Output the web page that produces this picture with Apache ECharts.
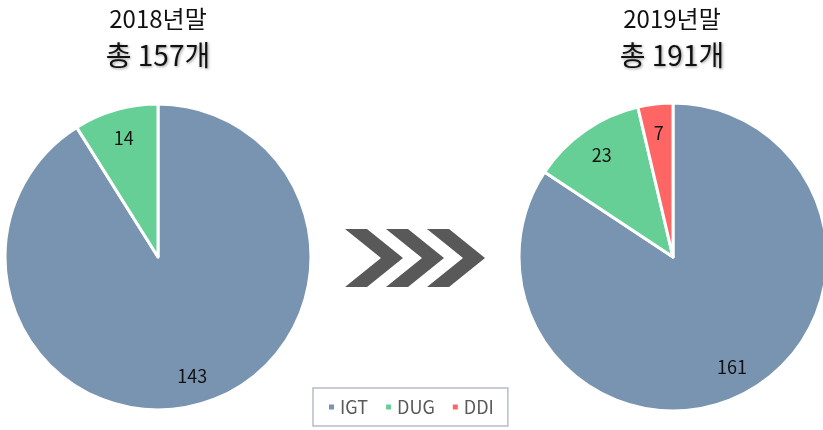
<!DOCTYPE html>
<html lang="ko">
  <head>
    <meta charset="UTF-8" />
    <title>2018년말 / 2019년말</title>
    <style>
      body {
        margin: 0;
      }
      #main {
        width: 823px;
        height: 430px;
        background-color: #fff;
      }
    </style>
  </head>
  <body>
    <div id="main"></div>
    <script src="https://cdn.jsdelivr.net/npm/echarts@6/dist/echarts.min.js"></script>
    <script>
      const categories = ["IGT", "DUG", "DDI"];
      const colors = ["#7994b0", "#66cf96", "#fe6666"];
      const values2018 = [143, 14, 0];
      const values2019 = [161, 23, 7];
      const titles = [
        ["2018년말", "총 157개"],
        ["2019년말", "총 191개"],
      ];

      const FONT = "'Noto Sans CJK KR', 'Noto Sans', sans-serif";
      const myChart = echarts.init(document.getElementById("main"));

      function toData(vals) {
        return categories
          .map((name, i) => ({ name: name, value: vals[i], itemStyle: { color: colors[i] } }))
          .filter((d) => d.value > 0);
      }

      // 본 파이
      function pie(center, r, vals) {
        return {
          type: "pie",
          center: center,
          radius: [0, r],
          startAngle: 90,
          clockwise: true,
          silent: true,
          itemStyle: { borderColor: "#fff", borderWidth: 3 },
          label: { show: false },
          labelLine: { show: false },
          data: toData(vals),
        };
      }

      // 라벨 전용 (투명 링, 반지름 약 0.8 위치)
      function labels(center, r, vals) {
        return {
          type: "pie",
          center: center,
          radius: [r * 0.58, r],
          startAngle: 90,
          clockwise: true,
          silent: true,
          label: {
            show: true,
            position: "inside",
            formatter: "{c}",
            color: "#111",
            fontSize: 18,
            fontFamily: FONT,
          },
          labelLine: { show: false },
          data: toData(vals).map((d) => ({ name: d.name, value: d.value, itemStyle: { color: "rgba(0,0,0,0)" } })),
        };
      }

      function chevron(x) {
        return {
          type: "polygon",
          shape: {
            points: [
              [x, 229],
              [x + 22, 229],
              [x + 58, 258],
              [x + 22, 287],
              [x, 287],
              [x + 36, 258],
            ],
          },
          style: { fill: "#595959" },
        };
      }

      function titleText(cx, lines) {
        return [
          {
            type: "text",
            x: cx,
            y: 7,
            style: {
              text: lines[0],
              fill: "#111",
              font: "24px " + FONT,
              align: "center",
            },
          },
          {
            type: "text",
            x: cx,
            y: 41,
            style: {
              text: lines[1],
              fill: "#111",
              font: "28px " + FONT,
              align: "center",
              textShadowColor: "rgba(0,0,0,0.4)",
              textShadowBlur: 3,
              textShadowOffsetX: 1,
              textShadowOffsetY: 1,
            },
          },
        ];
      }

      const option = {
        animation: false,
        textStyle: { fontFamily: FONT },
        legend: {
          data: categories,
          left: 313,
          top: 388,
          padding: [10, 14, 10, 14],
          borderColor: "#b8bccb",
          borderWidth: 1.5,
          icon: "rect",
          itemWidth: 7,
          itemHeight: 7,
          itemGap: 16,
          textStyle: { color: "#595959", fontSize: 18, fontFamily: FONT },
        },
        graphic: [
          ...titleText(158, titles[0]),
          ...titleText(672, titles[1]),
          chevron(345),
          chevron(386),
          chevron(427),
        ],
        series: [
          pie([158, 257], 153, values2018),
          pie([673, 257], 154, values2019),
          labels([158, 257], 153, values2018),
          labels([673, 257], 154, values2019),
        ],
      };
      myChart.setOption(option);
    </script>
  </body>
</html>
